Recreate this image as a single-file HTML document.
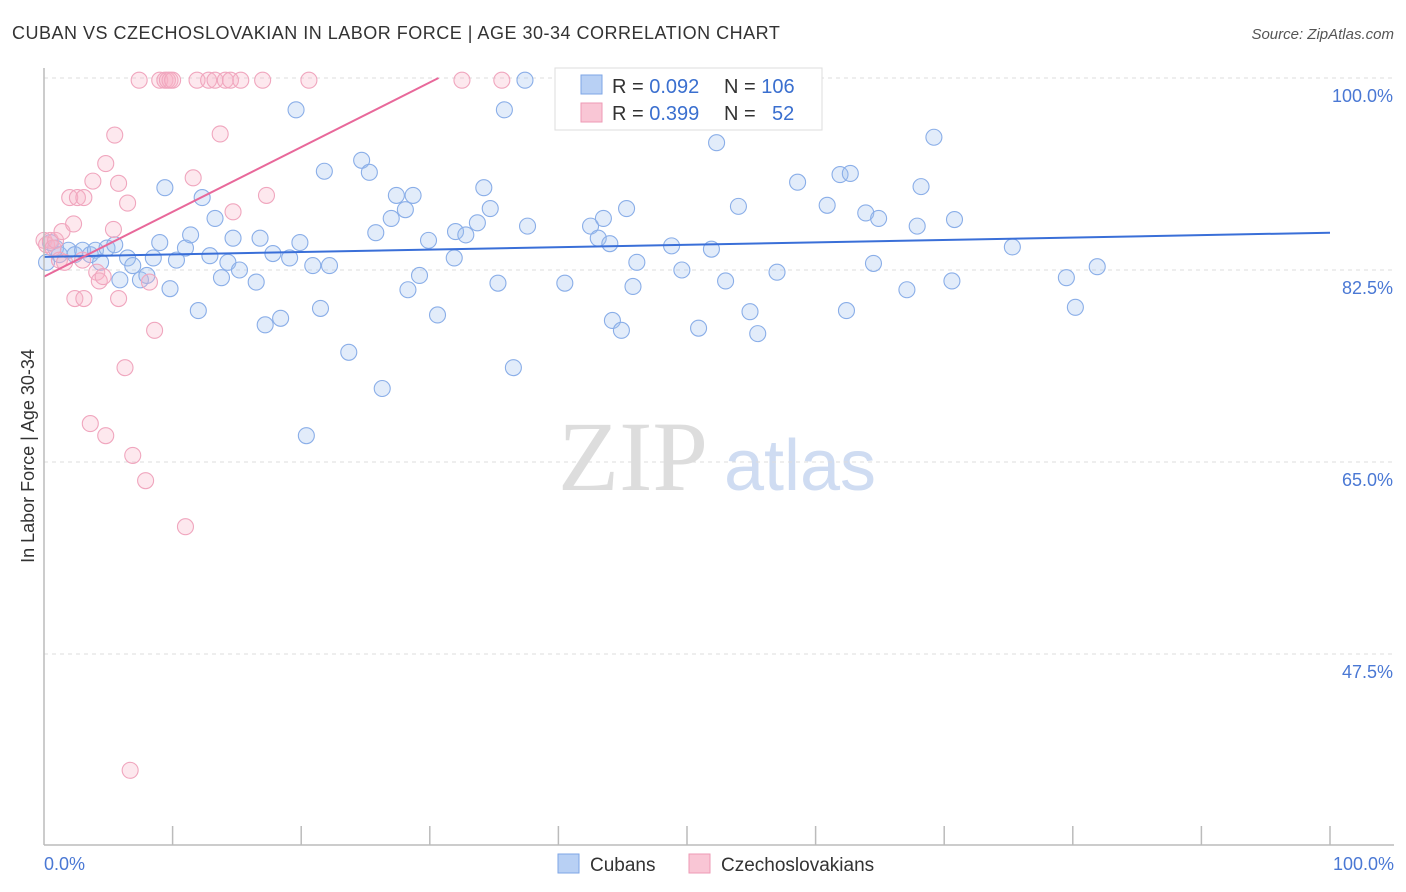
<!DOCTYPE html>
<html><head><meta charset="utf-8"><style>
body{margin:0;background:#fff;width:1406px;height:892px;overflow:hidden;font-family:"Liberation Sans",sans-serif}
svg{position:absolute;left:0;top:0}
</style></head><body>
<svg id="chart" width="1406" height="892">
<text x="12" y="39" font-size="18" fill="#333" letter-spacing="0.5">CUBAN VS CZECHOSLOVAKIAN IN LABOR FORCE | AGE 30-34 CORRELATION CHART</text>
<text x="1394" y="39" font-size="15" fill="#555" font-style="italic" text-anchor="end">Source: ZipAtlas.com</text>
<text x="633" y="490" font-size="100" fill="#ddd" font-family="Liberation Serif,serif" text-anchor="middle">ZIP</text>
<text x="800" y="490" font-size="72" fill="#cfdcf2" text-anchor="middle">atlas</text>
<text transform="translate(34,456) rotate(-90)" font-size="18" fill="#333" text-anchor="middle">In Labor Force | Age 30-34</text>
<g id="grid"></g><g id="pts"></g><g id="lines"></g>
<line x1="44" y1="68" x2="44" y2="845" stroke="#bbb" stroke-width="1.5"/>
<line x1="44" y1="845" x2="1394" y2="845" stroke="#bbb" stroke-width="1.5"/>
<text x="44" y="870" font-size="18" fill="#4a78d4">0.0%</text>
<text x="1394" y="870" font-size="18" fill="#4a78d4" text-anchor="end">100.0%</text>
<g>
<rect x="555" y="68" width="267" height="62" fill="#fff" stroke="#ddd"/>
<rect x="581" y="75" width="21" height="19" fill="#b8d0f4" stroke="#7ea6e6"/>
<rect x="581" y="103" width="21" height="19" fill="#f9c6d5" stroke="#ee9ab5"/>
<text font-size="20" fill="#333"><tspan x="612" y="93">R = </tspan><tspan fill="#3a6fcf">0.092</tspan><tspan x="724">N = </tspan><tspan fill="#3a6fcf">106</tspan></text>
<text font-size="20" fill="#333"><tspan x="612" y="120">R = </tspan><tspan fill="#3a6fcf">0.399</tspan><tspan x="724">N = </tspan><tspan x="772" fill="#3a6fcf">52</tspan></text>
</g>
<rect x="558" y="854" width="21" height="19" fill="#b8d0f4" stroke="#7ea6e6"/>
<text x="590" y="871" font-size="19" fill="#333">Cubans</text>
<rect x="689" y="854" width="21" height="19" fill="#f9c6d5" stroke="#ee9ab5"/>
<text x="721" y="871" font-size="19" fill="#333">Czechoslovakians</text>
</svg>
<script>
const yTicks=[100,82.5,65,47.5];
const yTickLabels=["100.0%","82.5%","65.0%","47.5%"];
const xTicks=[10,20,30,40,50,60,70,80,90,100];
const cubanX=[0.5,0.9,1.2,0.2,1.9,2.4,3.0,3.6,4.0,4.4,4.9,5.5,5.9,6.5,6.9,7.5,8.0,8.5,9.0,9.4,9.8,10.3,11.0,11.4,12.0,12.3,12.9,13.3,13.8,14.3,14.7,15.2,16.5,16.8,17.2,17.8,18.4,19.1,19.6,19.9,20.4,20.9,21.5,21.8,22.2,23.7,24.7,25.3,25.8,26.3,27.0,27.4,28.1,28.3,28.7,29.2,29.9,30.6,31.9,32.0,32.8,33.7,34.2,34.7,35.3,35.8,36.5,37.4,37.6,40.5,42.5,43.1,43.5,44.0,44.2,44.9,45.3,45.8,46.1,48.8,49.6,50.9,51.9,52.3,53.0,54.0,54.9,55.5,57.0,58.6,60.9,62.4,61.9,62.7,63.9,64.5,64.9,67.1,67.9,68.2,69.2,70.6,70.8,75.3,79.5,80.2,81.9];
const cubanY=[85.0,84.5,83.9,83.2,84.3,83.9,84.3,83.9,84.3,83.2,84.5,84.8,81.6,83.6,82.9,81.6,82.0,83.6,85.0,90.0,80.8,83.4,84.5,85.7,78.8,89.1,83.8,87.2,81.8,83.2,85.4,82.5,81.4,85.4,77.5,84.0,78.1,83.6,97.1,85.0,67.4,82.9,79.0,91.5,82.9,75.0,92.5,91.4,85.9,71.7,87.2,89.3,88.0,80.7,89.3,82.0,85.2,78.4,83.6,86.0,85.7,86.8,90.0,88.1,81.3,97.1,73.6,99.8,86.5,81.3,86.5,85.4,87.2,84.9,77.9,77.0,88.1,81.0,83.2,84.7,82.5,77.2,84.4,94.1,81.5,88.3,78.7,76.7,82.3,90.5,88.4,78.8,91.2,91.3,87.7,83.1,87.2,80.7,86.5,90.1,94.6,81.5,87.1,84.6,81.8,79.1,82.8];
const czechX=[0.0,0.2,0.5,0.7,0.9,1.2,1.4,1.6,2.0,2.3,2.6,3.0,3.1,2.4,3.1,3.8,4.1,4.3,4.6,4.8,5.4,5.5,5.8,5.8,6.5,6.3,6.7,7.4,7.9,8.2,8.6,9.0,9.4,9.6,9.8,10.0,11.0,11.6,11.9,12.8,13.3,13.7,14.1,14.5,14.7,15.3,17.0,17.3,20.6,32.5,35.6,3.6,4.8,6.9];
const czechY=[85.2,84.8,85.2,84.5,85.2,83.4,86.0,83.2,89.1,86.7,89.1,83.4,89.1,79.9,79.9,90.6,82.3,81.5,81.9,92.2,86.2,94.8,90.4,79.9,88.6,73.6,36.9,99.8,63.3,81.4,77.0,99.8,99.8,99.8,99.8,99.8,59.1,90.9,99.8,99.8,99.8,94.9,99.8,99.8,87.8,99.8,99.8,89.3,99.8,99.8,99.8,68.5,67.4,65.6];
const trendIntercept=[83.7,81.9];
const trendSlope=[0.022,0.59];
const NS="http://www.w3.org/2000/svg";
const X0=44,X1=1330,YTOP=78,PXPER=192/17.5;
function xs(v){return X0+(X1-X0)*v/100;}
function ys(v){return YTOP+(100-v)*PXPER;}
function mk(tag,attrs,parent){const e=document.createElementNS(NS,tag);for(const k in attrs)e.setAttribute(k,attrs[k]);parent.appendChild(e);return e;}
const grid=document.getElementById('grid');
yTicks.forEach((t,i)=>{
 const l=mk('line',{x1:X0,x2:1394,y1:ys(t),y2:ys(t),stroke:'#ddd','stroke-dasharray':'4,4'},grid);
 
 
 const tx=mk('text',{x:1393,y:ys(t)+24,'font-size':18,fill:'#4a78d4','text-anchor':'end'},grid);
 tx.textContent=yTickLabels[i];
 
 
});
xTicks.forEach(t=>{
 const l=mk('line',{x1:xs(t),x2:xs(t),y1:826,y2:845,stroke:'#bbb','stroke-width':1.5},grid);
 
 
});
const pts=document.getElementById('pts');
cubanX.forEach((x,i)=>{
 const c=mk('circle',{cx:xs(x),cy:ys(cubanY[i]),r:8,fill:'rgba(160,192,240,0.3)',stroke:'#8aaee8','stroke-width':1.1},pts);
 
 
});
czechX.forEach((x,i)=>{
 const c=mk('circle',{cx:xs(x),cy:ys(czechY[i]),r:8,fill:'rgba(248,180,200,0.3)',stroke:'#f0a6be','stroke-width':1.1},pts);
 
 
});
const lines=document.getElementById('lines');
const b=mk('line',{x1:xs(0),y1:ys(trendIntercept[0]),x2:xs(100),y2:ys(trendIntercept[0]+trendSlope[0]*100),stroke:'#3a6fd8','stroke-width':2},lines);


const xe=(100-trendIntercept[1])/trendSlope[1];
const p=mk('line',{x1:xs(0),y1:ys(trendIntercept[1]),x2:xs(xe),y2:ys(100),stroke:'#e8689a','stroke-width':2},lines);


</script>
</body></html>
